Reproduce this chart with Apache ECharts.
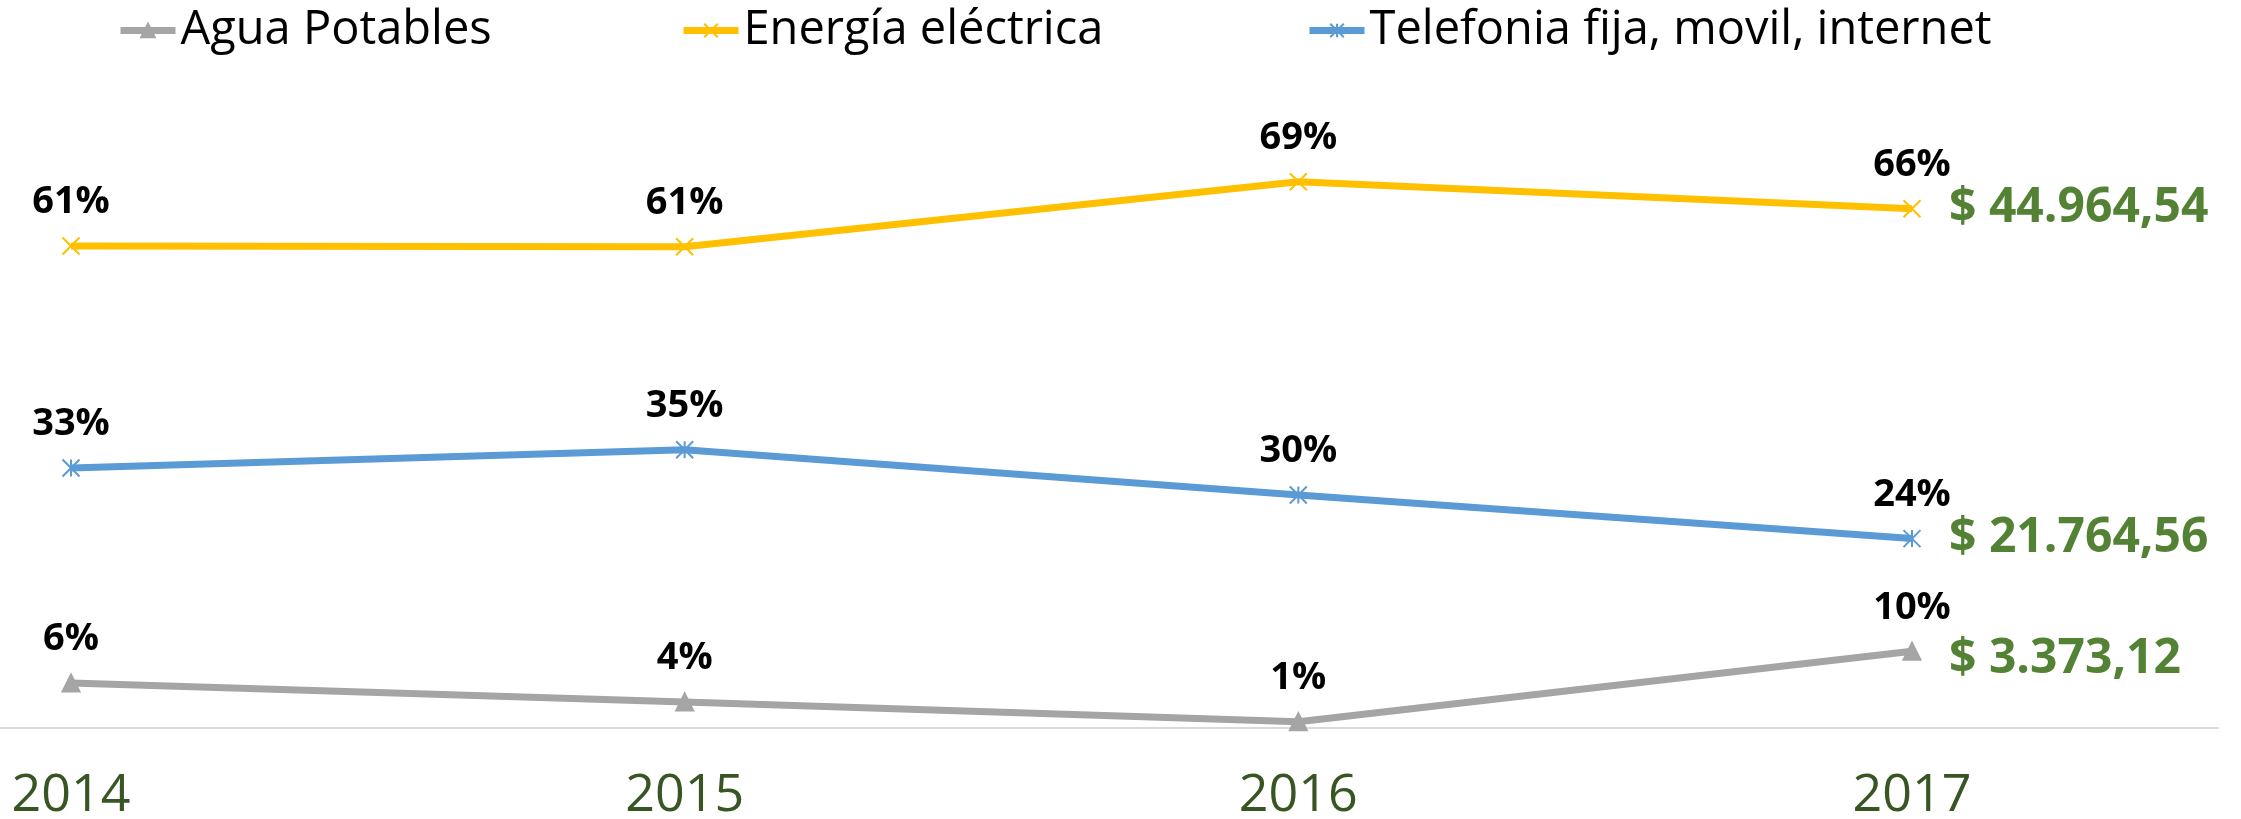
<!DOCTYPE html>
<html>
<head>
<meta charset="utf-8">
<script src="https://cdn.jsdelivr.net/npm/echarts@6/dist/echarts.min.js"></script>
<style>
html, body { margin: 0; padding: 0; background: #fff; }
#main { width: 2241px; height: 819px; }
</style>
</head>
<body>
<div id="main"></div>
<script>
"use strict";
// data (shares in %)
let years = ['2014', '2015', '2016', '2017'];
let agua = [6.0, 3.6, 1.1, 10.0];
let energia = [61.1, 61.0, 69.2, 65.8];
let telefonia = [33.1, 35.4, 29.7, 24.2];
let seriesNames = ['Agua Potables', 'Energía eléctrica', 'Telefonia fija, movil, internet'];
let totals2017 = ['$ 3.373,12', '$ 44.964,54', '$ 21.764,56'];

let font = 'Open Sans';
let crossPath = 'path://M0,0L10,10M10,0L0,10';
let starPath = 'path://M0,0L10,10M10,0L0,10M5,0L5,10';

function lineSeries(i, data, color, symbol, endOffset) {
    return {
        name: seriesNames[i],
        type: 'line',
        data: data,
        symbol: symbol,
        symbolSize: 17,
        lineStyle: { color: color, width: 7 },
        itemStyle: { color: color, borderColor: color, borderWidth: 2 },
        label: {
            show: true,
            position: 'top',
            distance: 15,
            color: '#000',
            fontFamily: font,
            fontWeight: 'bold',
            fontSize: 38,
            formatter: function (p) { return Math.round(p.value) + '%'; }
        },
        endLabel: {
            show: true,
            distance: 37,
            offset: endOffset,
            color: '#548235',
            fontFamily: font,
            fontWeight: 'bold',
            fontSize: 48,
            formatter: function () { return totals2017[i]; }
        },
        emphasis: { disabled: true },
        animation: false
    };
}

function legendAt(left, name) {
    return {
        left: left,
        top: 2,
        data: [name],
        itemWidth: 55,
        itemHeight: 17,
        lineStyle: { width: 7 },
        textStyle: { fontFamily: font, fontSize: 47, color: '#000' },
        selectedMode: false
    };
}

let myChart = echarts.init(document.getElementById('main'));
let option = {
    backgroundColor: '#fff',
    animation: false,
    legend: [
        legendAt(112, seriesNames[0]),
        legendAt(675, seriesNames[1]),
        legendAt(1301, seriesNames[2])
    ],
    grid: [
        { left: 71, right: 329, top: 96.1, bottom: 88.5, outerBoundsMode: 'none', containLabel: false },
        { left: 0, right: 23, top: 96, bottom: 91, outerBoundsMode: 'none', containLabel: false }
    ],
    xAxis: [
        {
            type: 'category',
            data: years,
            boundaryGap: false,
            axisLine: { show: false },
            axisTick: { show: false },
            axisLabel: { fontFamily: font, fontSize: 52, color: '#375623', margin: 40 }
        },
        {
            gridIndex: 1,
            type: 'value',
            axisLine: { show: true, lineStyle: { color: '#D9D9D9', width: 2 } },
            axisTick: { show: false },
            axisLabel: { show: false },
            splitLine: { show: false }
        }
    ],
    yAxis: [
        { type: 'value', min: 0, max: 80, show: false },
        { gridIndex: 1, type: 'value', show: false }
    ],
    series: [
        lineSeries(0, agua, '#A5A5A5', 'triangle', [0, 8]),
        lineSeries(1, energia, '#FFC000', crossPath, [0, 0]),
        lineSeries(2, telefonia, '#5B9BD5', starPath, [0, 0])
    ]
};
myChart.setOption(option);
</script>
</body>
</html>
